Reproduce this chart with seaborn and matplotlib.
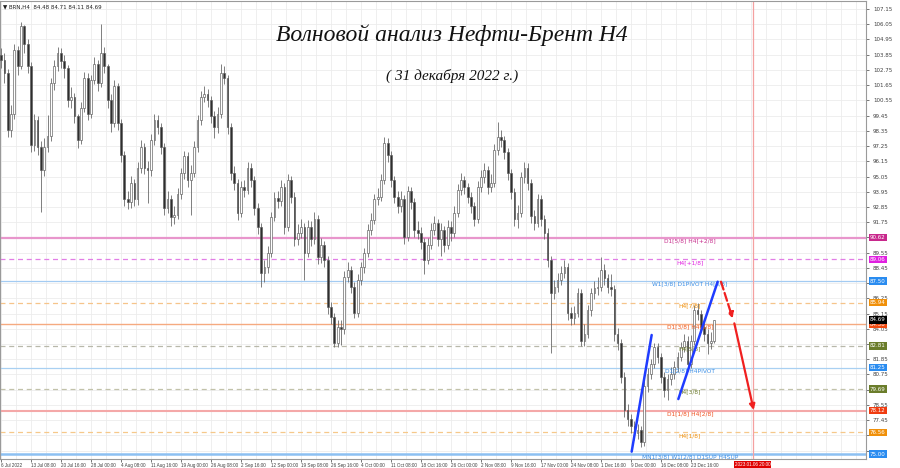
import numpy as np
import matplotlib
matplotlib.use("Agg")
import matplotlib.pyplot as plt
from matplotlib import font_manager
import seaborn as sns

# closes, one every ~3.3 px (about 3.5 H4 bars)
close_jul_sep = [
    103.5, 102.5, 98.4, 99.6, 104.2, 103.0, 105.9, 104.6, 103.0, 97.3,
    99.1, 97.2, 95.5, 97.2, 98.0, 101.8, 103.0, 104.0, 103.4, 102.9,
    100.6, 100.8, 99.4, 97.7, 100.0, 102.2, 99.6, 102.0, 103.2, 101.8,
    104.0, 103.0, 100.6, 98.9, 101.6, 98.9, 96.6, 93.4, 93.2, 94.6,
    93.4, 95.7, 97.2, 95.7, 95.5, 97.7, 99.1, 98.6, 97.2, 92.8,
    93.4, 92.1, 92.3, 93.8, 95.3, 96.5, 94.8, 95.3, 97.2, 99.1,
    100.8, 101.0, 100.6, 99.4, 98.6, 99.6, 102.5, 102.2, 98.6, 95.3,
    94.6, 92.4, 94.3, 94.1, 95.7, 94.8, 92.8, 91.4, 88.1, 88.5,
    89.5, 92.1, 93.5, 93.3, 94.3, 91.4, 94.8,
]
high_jul_sep = [
    104.3, 104.0, 102.8, 100.2, 104.6, 104.5, 106.2, 106.0, 105.0, 103.3,
    99.6, 99.4, 97.6, 97.8, 99.5, 102.2, 103.5, 104.4, 104.3, 103.8,
    103.1, 101.5, 101.1, 99.6, 100.4, 102.6, 102.5, 102.4, 103.7, 103.5,
    106.1, 104.4, 103.2, 101.0, 102.0, 101.8, 99.2, 96.9, 94.0, 95.1,
    94.9, 96.1, 97.7, 97.5, 96.2, 98.1, 99.6, 99.5, 98.9, 97.5,
    94.0, 93.7, 92.9, 94.2, 95.7, 96.9, 96.8, 95.9, 97.6, 99.5,
    101.2, 101.6, 101.4, 100.9, 99.8, 100.1, 103.2, 103.0, 102.4, 98.9,
    95.8, 94.9, 94.7, 94.8, 96.1, 96.0, 95.1, 93.1, 91.7, 89.0,
    90.0, 92.5, 93.9, 94.0, 94.8, 94.6, 95.2,
]
low_jul_sep = [
    102.9, 101.8, 97.9, 97.9, 99.2, 102.4, 102.8, 104.0, 102.5, 96.8,
    96.9, 96.6, 92.5, 95.1, 96.8, 97.6, 101.3, 102.7, 102.9, 102.2,
    100.1, 100.0, 98.9, 97.1, 97.4, 99.7, 99.1, 99.3, 101.7, 101.2,
    101.5, 102.5, 100.0, 98.3, 98.6, 98.4, 96.1, 92.9, 92.7, 92.8,
    92.9, 93.0, 95.3, 95.2, 93.1, 95.1, 97.3, 98.1, 96.7, 92.3,
    92.4, 91.5, 91.6, 92.0, 93.4, 94.9, 94.3, 92.3, 95.0, 96.8,
    98.8, 100.4, 100.1, 98.9, 97.8, 98.2, 99.3, 101.7, 98.1, 94.8,
    94.1, 91.9, 92.1, 93.6, 93.8, 94.3, 92.3, 90.9, 87.1, 87.4,
    88.1, 89.2, 91.8, 92.8, 92.9, 90.9, 91.1,
]

close_sep_nov = [
    93.6, 90.5, 91.0, 91.4, 89.5, 91.4, 90.5, 92.0, 89.2, 90.1,
    89.0, 85.6, 84.9, 83.0, 84.2, 84.0, 87.8, 88.3, 87.1, 85.2,
    87.6, 88.5, 89.5, 91.2, 91.9, 93.4, 93.6, 94.8, 97.5, 96.6,
    94.8, 93.6, 92.9, 93.4, 90.7, 94.0, 93.2, 91.2, 91.0, 90.3,
    89.0, 90.1, 91.2, 91.7, 90.5, 91.2, 90.1, 91.4, 91.0, 92.4,
    94.1, 94.8, 94.3, 93.6, 92.9, 92.0, 94.3, 95.0, 95.5, 94.3,
    94.6, 97.0, 97.9, 97.7, 96.8, 95.3, 93.9, 92.0, 92.4, 95.0,
    95.7, 94.6, 92.2, 91.7, 93.4, 92.0, 91.0, 89.0, 86.6, 87.1,
    87.6, 88.1, 88.5, 85.2, 84.8, 85.2, 86.6,
]
high_sep_nov = [
    95.1, 93.9, 91.6, 92.0, 91.7, 91.9, 91.8, 92.5, 92.3, 90.6,
    90.4, 89.3, 86.0, 85.2, 84.7, 84.7, 88.2, 88.9, 88.6, 87.4,
    88.0, 88.9, 89.9, 91.6, 92.4, 93.8, 94.2, 95.2, 97.9, 97.8,
    96.9, 95.1, 94.0, 94.0, 93.7, 94.4, 94.3, 93.5, 91.8, 91.4,
    90.6, 90.6, 91.7, 92.2, 92.0, 91.7, 91.5, 91.9, 91.8, 92.9,
    94.5, 95.3, 95.1, 94.6, 93.9, 93.2, 94.7, 95.5, 96.0, 95.8,
    95.2, 97.4, 99.0, 98.4, 98.0, 97.1, 95.6, 94.2, 93.0, 95.4,
    96.1, 96.0, 94.9, 92.6, 93.8, 93.7, 92.3, 91.3, 89.3, 87.6,
    88.1, 88.6, 89.0, 88.8, 85.6, 85.7, 87.0,
]
low_sep_nov = [
    93.1, 90.0, 90.1, 90.6, 87.6, 89.2, 90.0, 90.2, 88.7, 88.8,
    88.5, 85.1, 84.4, 82.7, 82.7, 82.9, 83.7, 87.4, 86.6, 84.8,
    84.9, 87.2, 88.1, 89.2, 90.8, 91.6, 93.0, 93.3, 94.5, 96.1,
    94.3, 93.1, 92.4, 92.5, 90.2, 90.4, 92.7, 90.7, 90.5, 89.8,
    88.0, 88.7, 89.8, 90.8, 90.0, 89.3, 89.6, 89.8, 90.4, 90.7,
    92.1, 93.7, 93.8, 93.1, 92.4, 91.5, 91.7, 93.9, 94.6, 93.8,
    93.9, 94.3, 96.6, 97.2, 96.3, 94.8, 93.4, 91.5, 91.3, 92.1,
    94.6, 94.1, 91.7, 91.2, 91.4, 91.5, 90.5, 88.5, 82.3, 86.2,
    86.7, 87.2, 87.7, 84.7, 84.3, 84.4, 84.9,
]

close_nov_dec = [
    83.2, 83.7, 85.4, 86.6, 87.0, 87.1, 88.3, 87.7, 87.1, 86.9,
    83.7, 83.0, 80.6, 78.2, 77.5, 77.0, 76.5, 76.7, 75.9, 79.9,
    80.8, 81.5, 82.7, 82.0, 80.6, 79.6, 80.4, 80.8, 81.3, 82.0,
    82.7, 83.2, 81.5, 83.2, 85.4, 85.1, 84.2, 83.7, 83.0, 83.2,
    84.69,
]
high_nov_dec = [
    86.9, 84.4, 85.8, 87.0, 87.5, 87.8, 89.2, 88.7, 88.0, 88.0,
    87.2, 84.1, 83.3, 80.9, 78.6, 77.9, 77.4, 77.2, 77.0, 80.3,
    81.2, 81.9, 83.0, 83.0, 82.3, 80.9, 80.8, 81.3, 81.7, 82.4,
    83.1, 83.7, 83.5, 83.6, 85.8, 85.9, 85.4, 84.5, 84.0, 83.8,
    84.71,
]
low_nov_dec = [
    82.8, 82.8, 83.4, 85.0, 86.2, 86.5, 86.8, 87.2, 86.6, 86.4,
    83.2, 82.5, 80.1, 77.7, 77.0, 76.5, 76.0, 76.1, 75.5, 75.6,
    79.5, 80.4, 81.2, 81.6, 80.1, 79.1, 78.9, 80.0, 80.4, 80.9,
    81.7, 82.4, 81.0, 81.2, 82.9, 84.7, 83.8, 83.2, 82.2, 82.6,
    83.0,
]

first_open = 103.8

x_labels = ["6 Jul 2022", "13 Jul 08:00", "20 Jul 16:00", "28 Jul 00:00",
            "4 Aug 08:00", "11 Aug 16:00", "19 Aug 00:00", "26 Aug 08:00",
            "2 Sep 16:00", "12 Sep 00:00", "19 Sep 08:00", "26 Sep 16:00",
            "4 Oct 00:00", "11 Oct 08:00", "18 Oct 16:00", "26 Oct 00:00",
            "2 Nov 08:00", "9 Nov 16:00", "17 Nov 00:00", "24 Nov 08:00",
            "1 Dec 16:00", "9 Dec 00:00", "16 Dec 08:00", "23 Dec 16:00"]

# Murrey / pivot levels
levels = [90.62, 89.06, 87.50, 85.94, 84.38, 82.81, 81.25, 79.69, 78.12, 76.56, 75.00]
level_names = ["D1[5/8] H4[+2/8]", "H4[+1/8]", "W1[3/8] D1PIVOT H4[8/8]", "H4[7/8]",
               "D1[3/8] H4[6/8]", "H4[5/8]", "D1[2/8] H4PIVOT", "H4[3/8]",
               "D1[1/8] H4[2/8]", "H4[1/8]", "MN1[3/8] W1[2/8] D1SUP H4SUP"]
level_line_colors = ['#e896cc', '#e27ee6', '#a3cbf2', '#f6c48a', '#f5aa80', '#b8b8aa',
                     '#a9d0f2', '#c2c2aa', '#f4a8a8', '#f6c88a', '#8cc0f2']
level_styles = ['-', '--', '-', '--', '-', '--', '-', '--', '-', '--', '-']
level_widths = [1.6, 0.9, 0.9, 0.9, 1.0, 0.9, 0.9, 0.9, 1.5, 0.9, 1.8]
level_text_colors = ['#c8308e', '#e020e0', '#3a8ee6', '#f0900a', '#f05a1e', '#6b7a2a',
                     '#3a8ee6', '#6b7a2a', '#f0501e', '#f0900a', '#3a8ee6']
level_box_colors = ['#c8288c', '#e020e0', '#2a8cf0', '#f0900a', '#f04a10', '#6b7d2b',
                    '#2a8cf0', '#6b7d2b', '#f03c10', '#f0900a', '#2a8cf0']

last_price = 84.69
header = "\u25bc BRN,H4  84.48 84.71 84.11 84.69"
future_label = "2023.01.06 20:00"
future_pos = 225.5

# wave sketch (sample index, price)
wave1_x = [189.2, 195.2]
wave1_y = [75.17, 83.6]
wave3_x = [203.2, 215.0]
wave3_y = [78.97, 87.45]
red_dash = [(216.0, 87.45), (219.5, 84.8)]
red_solid = [(220.0, 84.44), (225.8, 78.18)]

close = np.array(close_jul_sep + close_sep_nov + close_nov_dec)
high = np.array(high_jul_sep + high_sep_nov + high_nov_dec)
low = np.array(low_jul_sep + low_sep_nov + low_nov_dec)
opn = np.r_[first_open, close[:-1]]
idx = np.arange(len(close))

sns.set_theme(style="white")
plt.rcParams['font.family'] = ['DejaVu Sans']

# narrow font for the crowded time axis, if it is there
installed = {f.name for f in font_manager.fontManager.ttflist}
if 'Liberation Sans Narrow' in installed:
    time_font, time_size = 'Liberation Sans Narrow', 4.0
else:
    time_font, time_size = 'Liberation Sans', 3.3

fig = plt.figure(figsize=(9, 4.68), dpi=100)
ax = fig.add_axes([0.0, 9 / 468, 866 / 900, 458 / 468])

# grid
yticks = [round(107.15 - 1.1 * k, 2) for k in range(30)]
xticks = [9 * k for k in range(len(x_labels))]
for y in yticks:
    ax.axhline(y, color='#ececec', lw=0.6, zorder=0)
for k in range(58):
    ax.axvline(4.5 * k, color='#ececec', lw=0.6, zorder=0)

# levels
for lv, c, ls, lw in zip(levels, level_line_colors, level_styles, level_widths):
    if ls == '--':
        ax.axhline(lv, color=c, lw=lw, zorder=1, dashes=(4, 3))
    else:
        ax.axhline(lv, color=c, lw=lw, zorder=1)

# candles
up = close >= opn
ax.vlines(idx, low, high, color='#6a6a6a', lw=0.6, zorder=2)
body = np.maximum(np.abs(close - opn), 0.06)
ax.bar(idx, body, bottom=np.minimum(opn, close), width=0.5,
       color=np.where(up, 'white', '#2e2e2e'), edgecolor='#5a5a5a', linewidth=0.45, zorder=3)

# level texts
for lv, name, c in zip(levels, level_names, level_text_colors):
    ax.text(206.7, lv - 0.04, name, color=c, fontsize=4.2, ha='center', va='top', zorder=4)

# wave sketch
sns.lineplot(x=wave1_x, y=wave1_y, ax=ax, color='#1f3cff', lw=1.8, zorder=5)
sns.lineplot(x=wave3_x, y=wave3_y, ax=ax, color='#1f3cff', lw=1.8, zorder=5)
ax.annotate("", xy=red_dash[1], xytext=red_dash[0], zorder=6,
            arrowprops=dict(arrowstyle='-|>', color='#f02020', lw=1.6, ls='--',
                            mutation_scale=8, shrinkA=0, shrinkB=0))
ax.annotate("", xy=red_solid[1], xytext=red_solid[0], zorder=6,
            arrowprops=dict(arrowstyle='-|>', color='#f02020', lw=1.6,
                            mutation_scale=8, shrinkA=0, shrinkB=0))

# future line
ax.axvline(future_pos, color='#f4a0a0', lw=0.9, zorder=1)

ax.set_xlim(-0.3, 259.5)
ax.set_ylim(74.64, 107.73)

# y axis on right
hidden = [t for t in yticks if min(abs(t - lv) for lv in levels) < 0.3]
ax.yaxis.tick_right()
ax.set_yticks(yticks)
ax.set_yticklabels(["" if t in hidden else f"{t:.2f}" for t in yticks])
ax.tick_params(axis='y', labelsize=4.0, colors='#404040', length=2, width=0.5, pad=3, right=True)
ax.set_xticks(xticks)
ax.set_xticklabels(x_labels, ha='left', family=time_font, fontsize=time_size)
ax.tick_params(axis='x', colors='#404040', length=2, width=0.5, pad=1, bottom=True)
ax.set_xlabel("")
ax.set_ylabel("")

for sp in ax.spines.values():
    sp.set_color('#9a9a9a')
    sp.set_linewidth(0.8)

# coloured price boxes on the axis
box_x = 1.0045
for lv, c in zip(levels, level_box_colors):
    ax.text(box_x, lv, f"{lv:.2f}", transform=ax.get_yaxis_transform(), fontsize=4.0,
            color='white', ha='left', va='center',
            bbox=dict(boxstyle='square,pad=0.2', fc=c, ec='none'))
ax.text(box_x, last_price, f"{last_price:.2f}", transform=ax.get_yaxis_transform(), fontsize=4.0,
        color='white', ha='left', va='center',
        bbox=dict(boxstyle='square,pad=0.2', fc='black', ec='none'))

ax.text(future_pos, -0.006, future_label, transform=ax.get_xaxis_transform(),
        fontsize=time_size, family=time_font, color='white', ha='center', va='top',
        bbox=dict(boxstyle='square,pad=0.2', fc='#e00000', ec='none'))

ax.text(0.003, 0.992, header, transform=ax.transAxes, fontsize=4.0, color='#202020',
        ha='left', va='top')

fig.text(452 / 900, 1 - 35 / 468, "Волновой анализ Нефти-Брент H4", fontsize=17,
         family=['Liberation Serif', 'DejaVu Serif'], style='italic', color='#111111',
         ha='center', va='center')
fig.text(452 / 900, 1 - 76 / 468, "( 31 декабря 2022 г.)", fontsize=11,
         family=['Liberation Serif', 'DejaVu Serif'], style='italic', color='#111111',
         ha='center', va='center')

fig.savefig("out.png", dpi=100)
